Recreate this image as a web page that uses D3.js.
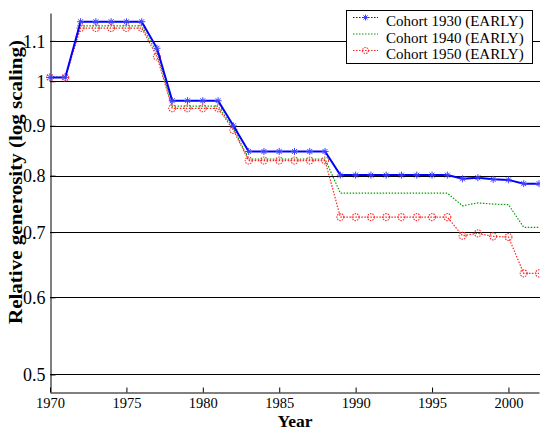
<!DOCTYPE html>
<html>
<head>
<meta charset="utf-8">
<script src="https://cdn.jsdelivr.net/npm/d3@7"></script>
<style>
  html, body { margin: 0; padding: 0; background: #fff; }
  svg { display: block; }
  text { font-family: "Liberation Serif", "Times New Roman", serif; }
</style>
</head>
<body>
<svg id="chart" width="540" height="432"></svg>
<script>
const years = [1970,1971,1972,1973,1974,1975,1976,1977,1978,1979,1980,1981,1982,1983,1984,1985,1986,1987,1988,1989,1990,1991,1992,1993,1994,1995,1996,1997,1998,1999,2000,2001,2002];
const cohort1930 = [1.009,1.009,1.151,1.151,1.151,1.151,1.151,1.081,0.955,0.955,0.955,0.955,0.900,0.847,0.847,0.847,0.847,0.847,0.847,0.801,0.801,0.801,0.801,0.801,0.801,0.801,0.801,0.794,0.796,0.793,0.792,0.785,0.785];
const cohort1940 = [1.009,1.009,1.140,1.140,1.140,1.140,1.140,1.070,0.943,0.943,0.943,0.943,0.895,0.832,0.832,0.832,0.832,0.832,0.832,0.7675,0.7675,0.7675,0.7675,0.7675,0.7675,0.7675,0.7675,0.745,0.750,0.748,0.747,0.708,0.708];
const cohort1950 = [1.009,1.009,1.134,1.134,1.134,1.134,1.134,1.060,0.938,0.938,0.938,0.938,0.891,0.829,0.829,0.829,0.829,0.829,0.829,0.7253,0.7253,0.7253,0.7253,0.7253,0.7253,0.7253,0.7253,0.694,0.698,0.693,0.692,0.635,0.635];
const seriesNames = ["Cohort 1930 (EARLY)", "Cohort 1940 (EARLY)", "Cohort 1950 (EARLY)"];
const xTicks = [1970,1975,1980,1985,1990,1995,2000];
const yTicks = [0.5,0.6,0.7,0.8,0.9,1,1.1];

(function () {
const svg = d3.select("#chart");
const pLeft = 50, pRight = 539, pTop = 13, pBottom = 392;

const x = d3.scaleLinear().domain([1970, 2002]).range([pLeft, pRight]);
const y = d3.scaleLog().domain([0.4797, 1.175]).range([pBottom, pTop]);

// grid
svg.append("g").selectAll("line").data(yTicks).join("line")
  .attr("x1", pLeft).attr("x2", 540)
  .attr("y1", d => Math.round(y(d)) + 0.5).attr("y2", d => Math.round(y(d)) + 0.5)
  .attr("stroke", "#000").attr("stroke-width", 1);

// axes
const yAxis = d3.axisLeft(y).tickValues(yTicks).tickFormat(d => String(d)).tickSizeInner(-5).tickSizeOuter(0).tickPadding(5);
const gy = svg.append("g").attr("transform", `translate(${pLeft + 0.5},0)`).call(yAxis);
const xAxis = d3.axisBottom(x).tickValues(xTicks).tickFormat(d3.format("d")).tickSizeInner(-5).tickSizeOuter(0).tickPadding(4);
const gx = svg.append("g").attr("transform", `translate(0,${pBottom + 0.5})`).call(xAxis);
gy.attr("font-size", 18).attr("font-family", "Liberation Serif, serif");
gx.attr("font-size", 14.5).attr("font-family", "Liberation Serif, serif");
[gx, gy].forEach(g => {
  g.selectAll("text").attr("fill", "#000");
  g.selectAll("line,path").attr("stroke", "#000");
});
gy.selectAll("text").style("font-size", "18px").attr("dy", "0.34em");
gx.selectAll("text").style("font-size", "14.5px").attr("dy", "0.77em");

// labels
svg.append("text").attr("x", 295).attr("y", 427).attr("text-anchor", "middle")
  .attr("font-family", "Liberation Serif, serif")
  .attr("font-size", 17.5).attr("font-weight", "bold").text("Year");
svg.append("text").attr("transform", "translate(22,182) rotate(-90)").attr("text-anchor", "middle")
  .attr("font-family", "Liberation Serif, serif")
  .attr("font-size", 18).attr("font-weight", "bold")
  .attr("textLength", 284).attr("lengthAdjust", "spacingAndGlyphs")
  .text("Relative generosity (log scaling)");

const line = d3.line().x((d, i) => x(years[i])).y(d => y(d));

// green dotted
svg.append("path").datum(cohort1940).attr("d", line).attr("fill", "none")
  .attr("stroke", "#00a000").attr("stroke-width", 1.2).attr("stroke-dasharray", "1.5,1.5");

// red dotted with circles
svg.append("path").datum(cohort1950).attr("d", line).attr("fill", "none")
  .attr("stroke", "#ff2020").attr("stroke-width", 1.2).attr("stroke-dasharray", "1.5,1.5");
svg.append("g").selectAll("circle").data(cohort1950).join("circle")
  .attr("cx", (d, i) => x(years[i])).attr("cy", d => y(d)).attr("r", 3.5)
  .attr("fill", "none").attr("stroke", "#ff3030").attr("stroke-width", 1.1).attr("stroke-dasharray", "1.5,1");

// blue solid with asterisks
svg.append("path").datum(cohort1930).attr("d", line).attr("fill", "none")
  .attr("stroke", "#0000ff").attr("stroke-width", 2);
function star(g, cx, cy, s, color) {
  const p = `M${cx - s},${cy}L${cx + s},${cy}M${cx},${cy - s}L${cx},${cy + s}` +
    `M${cx - s * 0.7},${cy - s * 0.7}L${cx + s * 0.7},${cy + s * 0.7}M${cx - s * 0.7},${cy + s * 0.7}L${cx + s * 0.7},${cy - s * 0.7}`;
  g.append("path").attr("d", p).attr("stroke", color).attr("stroke-width", 1).attr("fill", "none");
}
const gb = svg.append("g");
cohort1930.forEach((d, i) => star(gb, x(years[i]), y(d), 3.5, "#4040ff"));

// legend
const lg = svg.append("g");
lg.append("rect").attr("x", 346.5).attr("y", 10.5).attr("width", 186).attr("height", 53)
  .attr("fill", "#fff").attr("stroke", "#000").attr("stroke-width", 1);
const rowsY = [17.5, 34, 50.5];
const colors = ["#0000ff", "#00a000", "#ff2020"];
rowsY.forEach((ry, i) => {
  lg.append("line").attr("x1", 353).attr("x2", 378).attr("y1", ry).attr("y2", ry)
    .attr("stroke", colors[i]).attr("stroke-width", 1.2).attr("stroke-dasharray", "1.5,1.5");
  if (i === 0) star(lg, 365.5, ry, 3, "#4040ff");
  if (i === 2) lg.append("circle").attr("cx", 365.5).attr("cy", ry).attr("r", 3)
    .attr("fill", "none").attr("stroke", "#ff3030").attr("stroke-width", 1.1).attr("stroke-dasharray", "1.5,1");
  lg.append("text").attr("x", 386).attr("y", ry + 8.5).attr("font-size", 15)
    .attr("font-family", "Liberation Serif, serif").text(seriesNames[i]);
});
})();
</script>
</body>
</html>
